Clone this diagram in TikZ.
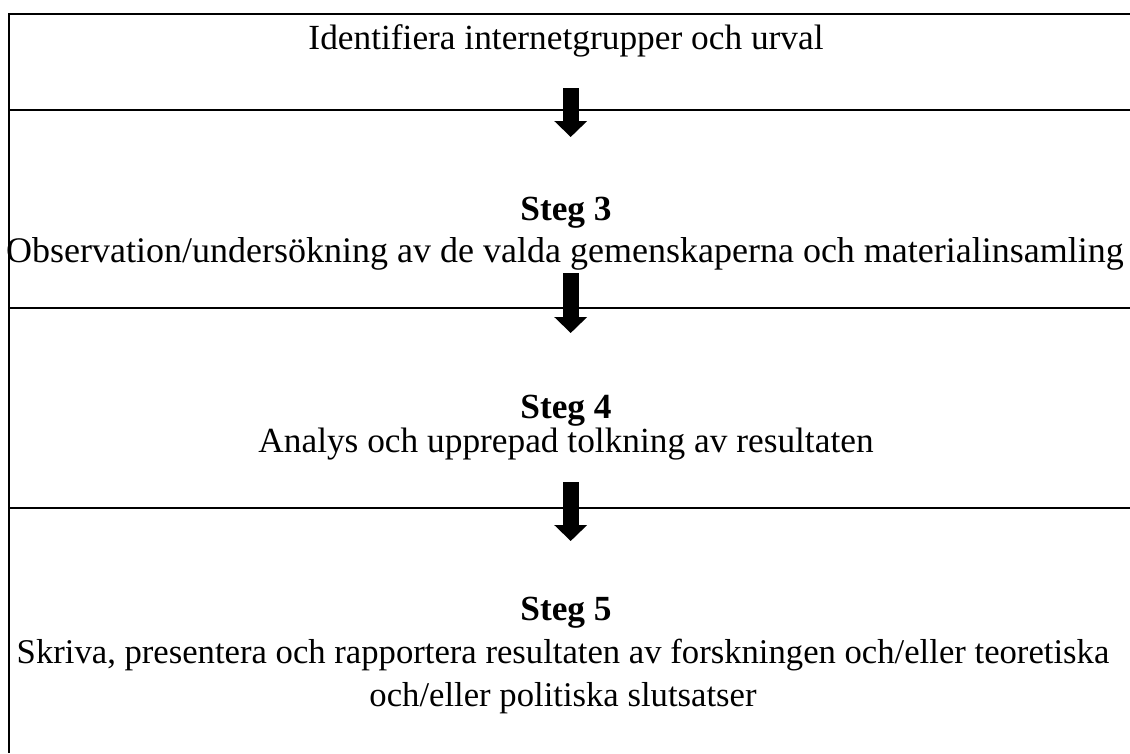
\documentclass[tikz,border=0pt]{standalone}
\usepackage{fontspec}
\setmainfont{Liberation Serif}
\usetikzlibrary{arrows.meta,positioning}

\begin{document}
\begin{tikzpicture}[x=0.75pt,y=-0.75pt]
      \tikzstyle{txt}=[anchor=base,inner sep=0pt,font=\fontsize{26.5}{32.25}\selectfont]
      \tikzstyle{hd}=[txt,font=\fontsize{26.5}{32.25}\selectfont\bfseries]
      \tikzstyle{rule}=[line width=1.5pt]
      \tikzstyle{pil}=[line width=12pt,-{Triangle[width=24pt,length=12pt]}]
      \useasboundingbox (0,0) rectangle (1130,753);
      % frame lines
      \draw[rule] (8,14) -- (1130,14);
      \draw[rule] (9,14) -- (9,753);
      \foreach \y in {109.5,307.5,507.5}
        \draw[rule] (9,\y) -- (1130,\y);
      % texts
      \node[txt] (id) at (566,49) {Identifiera internetgrupper och urval};
      \node[hd] (s3) at (566,220) {Steg 3};
      \node[txt,font=\fontsize{27}{32.25}\selectfont] (obs) at (565,262) {Observation/undersökning av de valda gemenskaperna och materialinsamling};
      \node[hd] (s4) at (566,418) {Steg 4};
      \node[txt] (ana) at (566,452) {Analys och upprepad tolkning av resultaten};
      \node[hd] (s5) at (566,620) {Steg 5};
      % two lines, base anchor sits on the last one
      \node[txt,align=center,font=\fontsize{26}{32.25}\selectfont] (skr) at (563,706) {Skriva, presentera och rapportera resultaten av forskningen och/eller teoretiska\\och/eller politiska slutsatser};
      % arrows between boxes
      \coordinate (p1a) at (570.7,88);  \coordinate (p1b) at (570.7,137);
      \coordinate (p2a) at (570.7,273); \coordinate (p2b) at (570.7,333);
      \coordinate (p3a) at (570.7,482); \coordinate (p3b) at (570.7,541);
      \draw[pil] (p1a) -- (p1b);
      \draw[pil] (p2a) -- (p2b);
      \draw[pil] (p3a) -- (p3b);
    \end{tikzpicture}
\end{document}
